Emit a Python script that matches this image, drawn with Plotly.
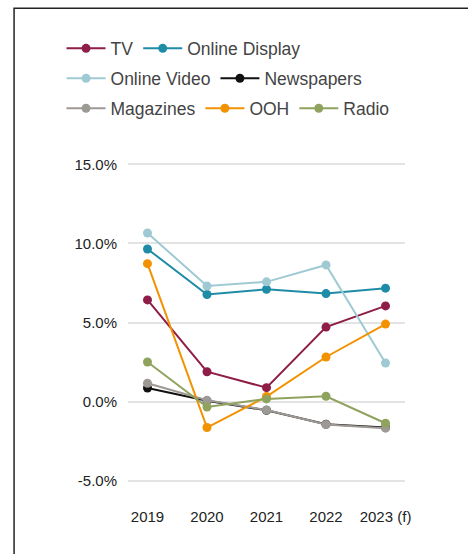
import plotly.graph_objects as go

years = ["2019", "2020", "2021", "2022", "2023 (f)"]

tv = [6.43, 1.89, 0.88, 4.71, 6.05]
online_display = [9.65, 6.77, 7.10, 6.83, 7.17]
online_video = [10.66, 7.31, 7.57, 8.64, 2.44]
newspapers = [0.86, 0.05, -0.55, -1.43, -1.63]
magazines = [1.16, 0.08, -0.53, -1.45, -1.68]
ooh = [8.72, -1.64, 0.32, 2.82, 4.90]
radio = [2.50, -0.34, 0.17, 0.34, -1.37]

# (name, values, colour, legend row)
series = [
    ("TV", tv, "#8e1d47", "legend"),
    ("Online Display", online_display, "#1f8ca7", "legend"),
    ("Online Video", online_video, "#9fc9d3", "legend2"),
    ("Newspapers", newspapers, "#111111", "legend2"),
    ("Magazines", magazines, "#9d9995", "legend3"),
    ("OOH", ooh, "#f39200", "legend3"),
    ("Radio", radio, "#8fa35f", "legend3"),
]

fig = go.Figure()
for name, vals, color, leg in series:
    fig.add_trace(go.Scatter(
        x=years, y=vals, name=name, mode="lines+markers",
        line=dict(color=color, width=2),
        marker=dict(color=color, size=9),
        legend=leg,
    ))

W, H = 468, 554
ml, mr, mt, mb = 128.3, 63, 158, 47.6
pw = W - ml - mr
ph = H - mt - mb

# outer frame (left and top edges visible)
fx = (14.5 - ml) / pw
fy = (H - mb - 8) / ph
fig.add_shape(type="rect", xref="paper", yref="paper",
              x0=fx, x1=1.6, y0=-0.6, y1=fy,
              line=dict(color="#222222", width=1.5), layer="below")


def legend_row(ytop):
    return dict(
        orientation="h", xref="paper", yref="paper",
        x=-0.24, xanchor="left", y=ytop, yanchor="top",
        font=dict(size=17.5, color="#444444"),
        bgcolor="rgba(0,0,0,0)", traceorder="normal",
        itemwidth=39,
    )


fig.update_layout(
    width=W, height=H,
    margin=dict(l=ml, r=mr, t=mt, b=mb),
    paper_bgcolor="white", plot_bgcolor="white",
    font=dict(family="Liberation Sans, Arial, sans-serif", color="#222222", size=15),
    showlegend=True,
    legend=legend_row(1.3665),
    legend2=legend_row(1.2804),
    legend3=legend_row(1.1943),
    xaxis=dict(
        type="category", showgrid=False, zeroline=False, showline=False,
        ticks="", tickfont=dict(size=15, color="#222222"),
        ticklabelstandoff=0,
    ),
    yaxis=dict(
        range=[-6.6, 15.4], tickvals=[-5, 0, 5, 10, 15],
        ticktext=["-5.0%", "0.0%", "5.0%", "10.0%", "15.0%"],
        showgrid=True, gridcolor="#e3e3e3", gridwidth=1.5,
        zeroline=False, showline=False, ticks="",
        tickfont=dict(size=15, color="#222222"),
        ticklabelstandoff=10,
    ),
)

fig.write_html("out.html")
